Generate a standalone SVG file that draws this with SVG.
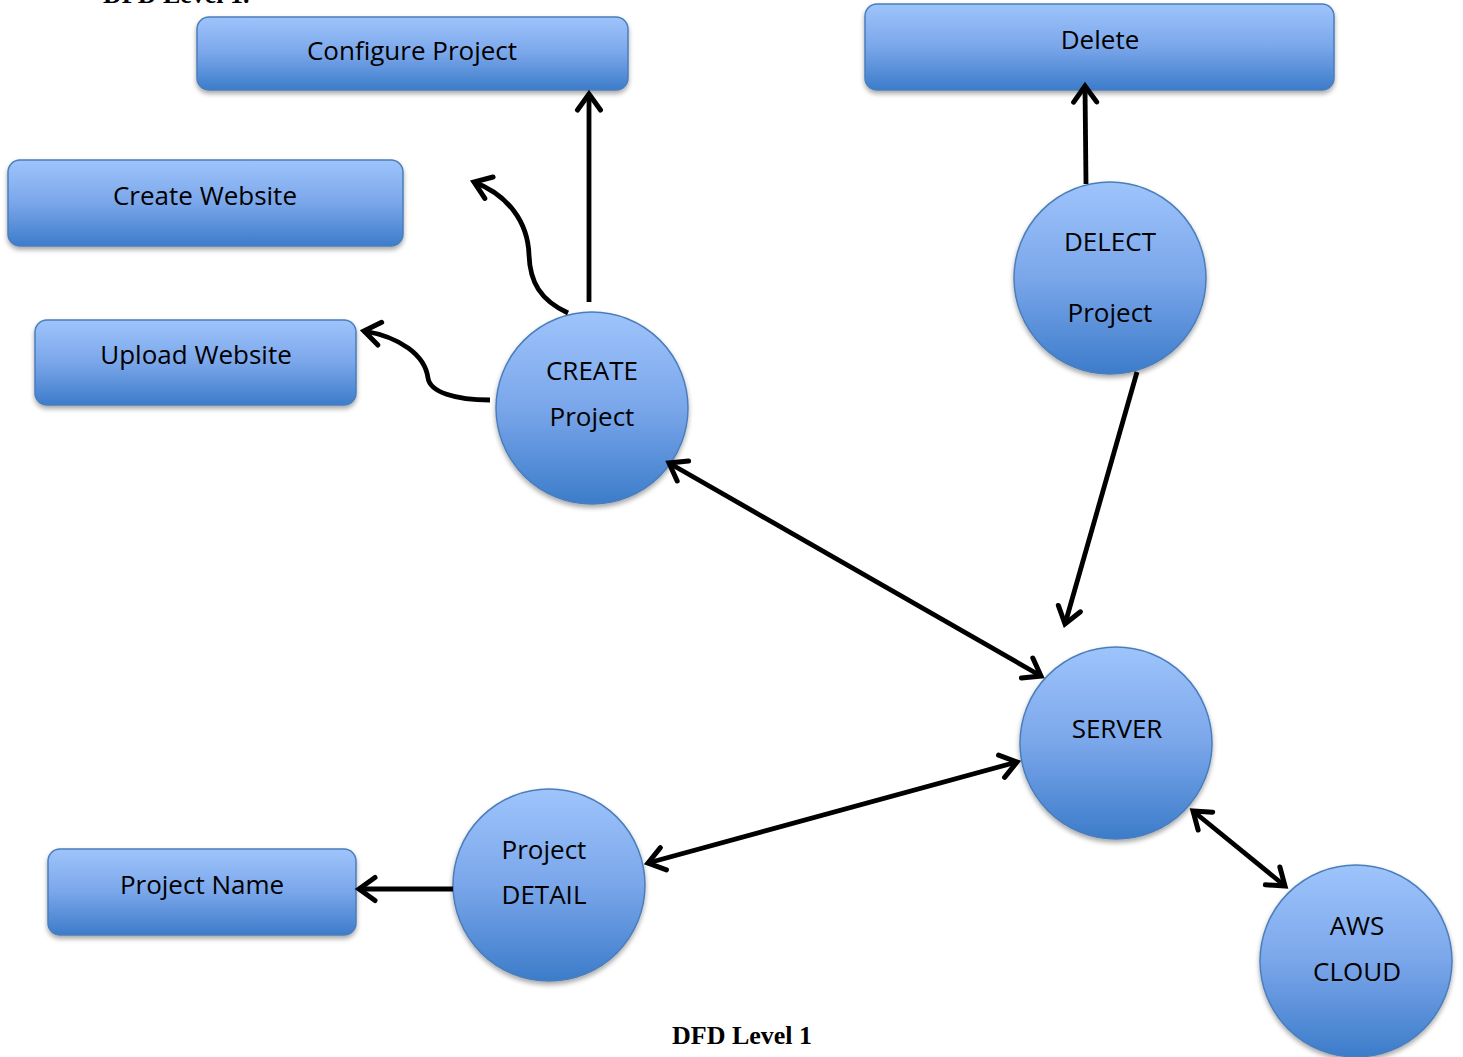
<svg xmlns="http://www.w3.org/2000/svg" width="1463" height="1057" viewBox="0 0 1463 1057">
  <style>
    .box { fill: url(#blueGrad); stroke: #4a7ebb; stroke-width: 1.5; filter: url(#shadow); }
    .proc { fill: url(#blueGrad); stroke: #4a7ebb; stroke-width: 1.5; filter: url(#shadow); }
    .label { font-family: "Open Sans", "Noto Sans", sans-serif; font-size: 26px; font-weight: 500; fill: #000; text-anchor: middle; }
    .flow { fill: none; stroke: #000; stroke-width: 4.8; stroke-linecap: butt; }
    .caption { font-family: "Liberation Serif", "Times New Roman", serif; font-weight: bold; font-size: 26px; fill: #000; }
  </style>
  <defs>
    <linearGradient id="blueGrad" x1="0" y1="0" x2="0" y2="1">
      <stop offset="0" stop-color="#9ec4fb"/>
      <stop offset="0.5" stop-color="#7aa6ea"/>
      <stop offset="1" stop-color="#3c7cca"/>
    </linearGradient>
    <filter id="shadow" x="-10%" y="-10%" width="120%" height="130%">
      <feGaussianBlur in="SourceAlpha" stdDeviation="2.5"/>
      <feOffset dx="0" dy="3" result="off"/>
      <feComponentTransfer><feFuncA type="linear" slope="0.35"/></feComponentTransfer>
      <feMerge><feMergeNode/><feMergeNode in="SourceGraphic"/></feMerge>
    </filter>
    <marker id="arrow" markerUnits="userSpaceOnUse" markerWidth="40" markerHeight="40" viewBox="-20 -20 40 40" refX="0" refY="0" orient="auto-start-reverse" overflow="visible">
      <path d="M-16,-11.5 L0,0 L-16,11.5" fill="none" stroke="#000" stroke-width="5" stroke-linejoin="miter" stroke-linecap="round"/>
    </marker>
  </defs>

  <rect width="1463" height="1057" fill="#fff"/>

  <!-- page heading, cut at the top edge -->
  <text class="caption" x="103" y="3" font-size="27">DFD Level 1.</text>

  <!-- external entities -->
  <g id="configure-project">
    <rect class="box" x="197" y="17" width="431" height="73" rx="12"/>
    <text class="label" x="412" y="60">Configure Project</text>
  </g>
  <g id="delete">
    <rect class="box" x="865" y="4" width="469" height="86" rx="12"/>
    <text class="label" x="1100" y="49">Delete</text>
  </g>
  <g id="create-website">
    <rect class="box" x="8" y="160" width="395" height="86" rx="12"/>
    <text class="label" x="205" y="205">Create Website</text>
  </g>
  <g id="upload-website">
    <rect class="box" x="35" y="320" width="321" height="85" rx="12"/>
    <text class="label" x="196" y="364">Upload Website</text>
  </g>
  <g id="project-name">
    <rect class="box" x="48" y="849" width="308" height="86" rx="12"/>
    <text class="label" x="202" y="894">Project Name</text>
  </g>

  <!-- processes -->
  <g id="create-project">
    <circle class="proc" cx="592" cy="408" r="96"/>
    <text class="label" x="592" y="380">CREATE</text>
    <text class="label" x="592" y="426">Project</text>
  </g>
  <g id="delect-project">
    <circle class="proc" cx="1110" cy="278" r="96"/>
    <text class="label" x="1110" y="251">DELECT</text>
    <text class="label" x="1110" y="322">Project</text>
  </g>
  <g id="server">
    <circle class="proc" cx="1116" cy="743" r="96"/>
    <text class="label" x="1117" y="738">SERVER</text>
  </g>
  <g id="project-detail">
    <circle class="proc" cx="549" cy="885" r="96"/>
    <text class="label" x="544" y="859">Project</text>
    <text class="label" x="544" y="904">DETAIL</text>
  </g>
  <g id="aws-cloud">
    <circle class="proc" cx="1356" cy="961" r="96"/>
    <text class="label" x="1357" y="935">AWS</text>
    <text class="label" x="1357" y="981">CLOUD</text>
  </g>

  <!-- data flows -->
  <g id="connectors">
    <path class="flow" d="M589,302 L589,94" marker-end="url(#arrow)"/>
    <path class="flow" d="M568,313 C540,300 530,282 529,255 C528,222 508,195 474,182" marker-end="url(#arrow)"/>
    <path class="flow" d="M490,400 C455,400 430,392 428,378 C425,355 400,337 364,331" marker-end="url(#arrow)"/>
    <path class="flow" d="M1086,184 L1085,86" marker-end="url(#arrow)"/>
    <path class="flow" d="M1137,372 L1065,624" marker-end="url(#arrow)"/>
    <path class="flow" d="M669,463 L1041,676" marker-start="url(#arrow)" marker-end="url(#arrow)"/>
    <path class="flow" d="M648,863 L1017,762" marker-start="url(#arrow)" marker-end="url(#arrow)"/>
    <path class="flow" d="M1193,811 L1285,886" marker-start="url(#arrow)" marker-end="url(#arrow)"/>
    <path class="flow" d="M453,889 L359,889" marker-end="url(#arrow)"/>
  </g>

  <text class="caption" x="672" y="1044">DFD Level 1</text>
</svg>
